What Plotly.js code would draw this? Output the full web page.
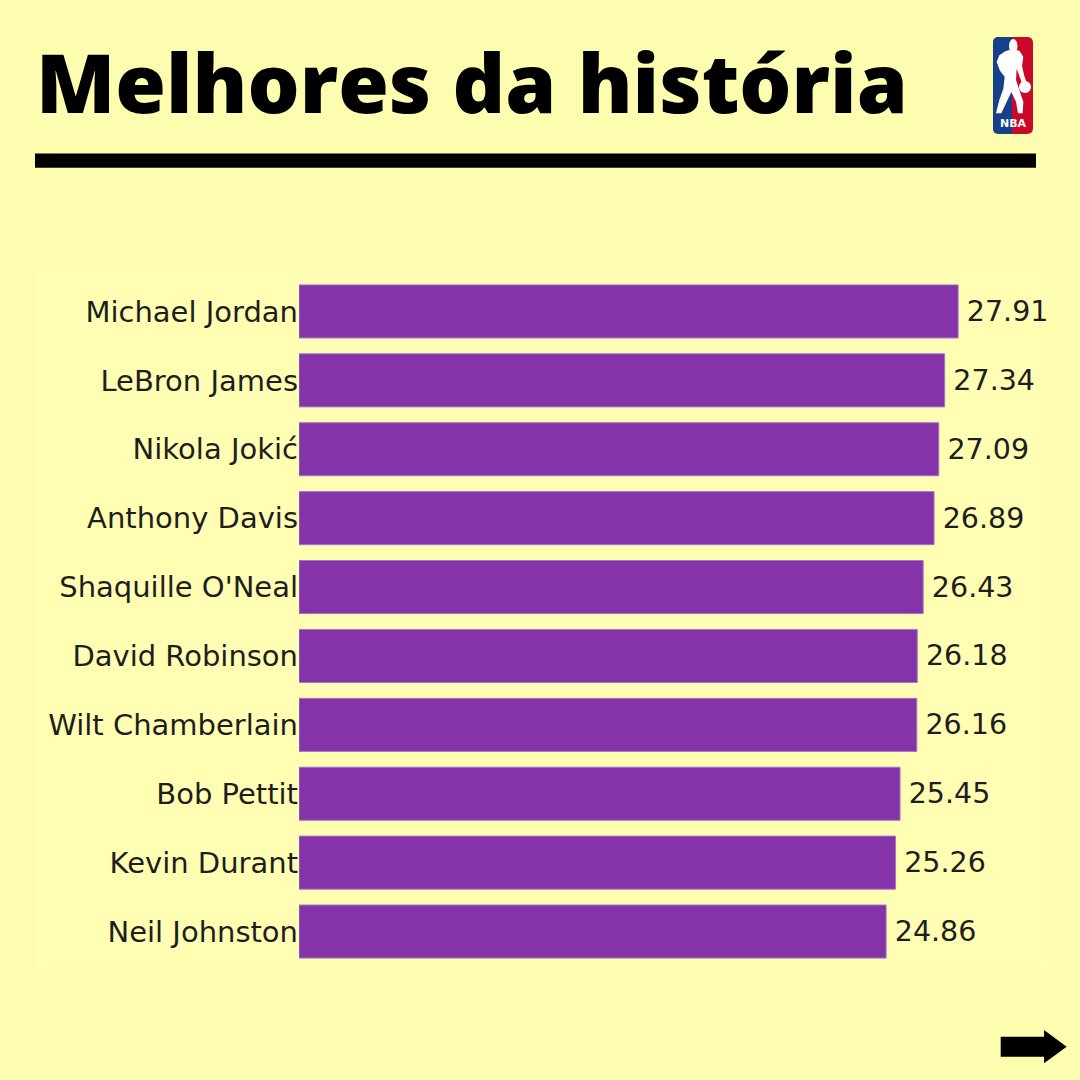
<!DOCTYPE html>
<html>
<head>
<meta charset="utf-8">
<script src="https://cdn.plot.ly/plotly-3.0.1.min.js"></script>
<style>html,body{margin:0;padding:0;background:#FDFDAF;}#chart{width:1080px;height:1080px;}</style>
</head>
<body>
<div id="chart"></div>
<script>
const players = ["Michael Jordan","LeBron James","Nikola Jokić","Anthony Davis","Shaquille O'Neal","David Robinson","Wilt Chamberlain","Bob Pettit","Kevin Durant","Neil Johnston"];
const ratings = [27.91, 27.34, 27.09, 26.89, 26.43, 26.18, 26.16, 25.45, 25.26, 24.86];
const titleText = "Melhores da história";

const W = 1080, H = 1080;
const px = x => x / W;
const py = y => 1 - y / H;
function pathFrom(pts, close) {
  return pts.map((p, i) => (i ? 'L' : 'M') + px(p[0]).toFixed(5) + ',' + py(p[1]).toFixed(5)).join(' ') + (close ? ' Z' : '');
}
function zoomPts(arr) { return arr.map(p => [980 + p[0] / 3, 30 + p[1] / 3]); }
function roundRect(x0, y0, x1, y1, r) {
  const f = (x, y) => px(x).toFixed(5) + ',' + py(y).toFixed(5);
  return 'M' + f(x0 + r, y0) + ' L' + f(x1 - r, y0) + ' Q' + f(x1, y0) + ' ' + f(x1, y0 + r) +
    ' L' + f(x1, y1 - r) + ' Q' + f(x1, y1) + ' ' + f(x1 - r, y1) +
    ' L' + f(x0 + r, y1) + ' Q' + f(x0, y1) + ' ' + f(x0, y1 - r) +
    ' L' + f(x0, y0 + r) + ' Q' + f(x0, y0) + ' ' + f(x0 + r, y0) + ' Z';
}
function leftRound(x0, y0, x1, y1, r) {
  const f = (x, y) => px(x).toFixed(5) + ',' + py(y).toFixed(5);
  return 'M' + f(x0 + r, y0) + ' L' + f(x1, y0) + ' L' + f(x1, y1) +
    ' L' + f(x0 + r, y1) + ' Q' + f(x0, y1) + ' ' + f(x0, y1 - r) +
    ' L' + f(x0, y0 + r) + ' Q' + f(x0, y0) + ' ' + f(x0 + r, y0) + ' Z';
}

const silhouette = zoomPts([[95,58],[118,62],[130,80],[126,108],[133,138],[140,158],[126,160],[116,132],[110,116],[108,150],[118,180],[130,215],[128,250],[114,250],[108,215],[94,186],[80,215],[64,250],[48,250],[58,210],[70,176],[74,140],[60,122],[50,96],[58,76],[76,64]]);

const trace = {
  type: 'bar',
  orientation: 'h',
  x: ratings,
  y: players,
  marker: {color: '#8533A8', line: {color: '#A675C9', width: 1}},
  text: ratings.map(v => '\u2009' + v.toFixed(2)),
  textposition: 'outside',
  textfont: {family: 'DejaVu Sans', size: 28.5, color: '#1E1E1E'},
  cliponaxis: false,
  hoverinfo: 'none'
};

const shapes = [
  {type: 'rect', xref: 'paper', yref: 'paper', x0: px(35), x1: px(1050), y0: py(970), y1: py(270), fillcolor: '#FFFEB3', line: {width: 0}, layer: 'below'},
  {type: 'rect', xref: 'paper', yref: 'paper', x0: px(35), x1: px(1036), y0: py(167.7), y1: py(153.5), fillcolor: '#000000', line: {width: 0}},
  {type: 'path', xref: 'paper', yref: 'paper', path: roundRect(993, 37, 1033, 134, 6), fillcolor: '#C9082A', line: {width: 0}},
  {type: 'path', xref: 'paper', yref: 'paper', path: leftRound(993, 37, 1012, 134, 6), fillcolor: '#17408B', line: {width: 0}},
  {type: 'path', xref: 'paper', yref: 'paper', path: pathFrom(silhouette, true), fillcolor: '#FFFFFF', line: {width: 0}},
  {type: 'circle', xref: 'paper', yref: 'paper', x0: px(1009), x1: px(1017.5), y0: py(53), y1: py(39), fillcolor: '#FFFFFF', line: {width: 0}},
  {type: 'circle', xref: 'paper', yref: 'paper', x0: px(1019), x1: px(1031), y0: py(93), y1: py(81), fillcolor: '#FFFFFF', line: {width: 0}},
  {type: 'path', xref: 'paper', yref: 'paper', path: pathFrom([[1000.7,1036.7],[1044,1036.7],[1044,1030],[1066.7,1046.7],[1044,1063.3],[1044,1056.7],[1000.7,1056.7]], true), fillcolor: '#000000', line: {width: 0}}
];

const layout = {
  width: W, height: H,
  paper_bgcolor: '#FDFDAF',
  plot_bgcolor: 'rgba(0,0,0,0)',
  margin: {l: 0, r: 0, t: 0, b: 0, pad: 0},
  showlegend: false,
  bargap: 0.23,
  title: {
    text: titleText,
    font: {family: 'Open Sans', size: 82, color: '#000000', weight: 800},
    xref: 'paper', yref: 'paper', x: px(36), xanchor: 'left', y: py(113), yanchor: 'bottom'
  },
  xaxis: {domain: [px(299), px(1050)], range: [0, 31.8], visible: false, fixedrange: true},
  yaxis: {
    domain: [py(966), py(277)], autorange: 'reversed', type: 'category',
    automargin: false, showgrid: false, zeroline: false, showline: false, ticks: '',
    tickfont: {family: 'DejaVu Sans', size: 29, color: '#1E1E1E'}, fixedrange: true
  },
  shapes: shapes,
  annotations: [
    {xref: 'paper', yref: 'paper', x: px(1013), y: py(132), xanchor: 'center', yanchor: 'bottom', text: '<b>NBA</b>', showarrow: false, font: {family: 'DejaVu Sans', size: 11, color: '#FFFFFF'}}
  ]
};

Plotly.newPlot('chart', [trace], layout, {displayModeBar: false, staticPlot: true});
</script>
</body>
</html>
